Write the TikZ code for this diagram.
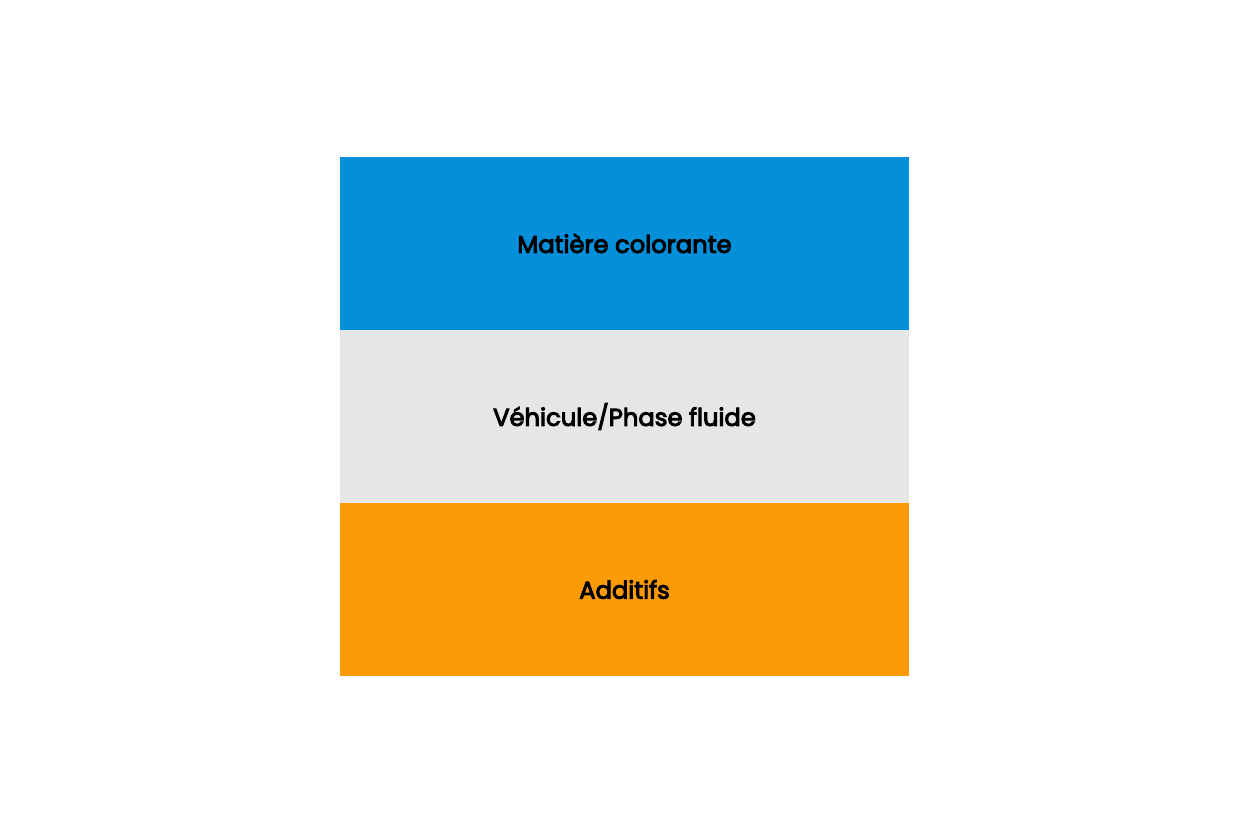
\documentclass[tikz,border=0pt]{standalone}
\usepackage{fontspec}
\setmainfont{Poppins}
\newfontfamily\coucheFont[FakeBold=4]{Poppins}
\usetikzlibrary{positioning}
\definecolor{couleurA}{HTML}{048FDB}
\definecolor{couleurB}{HTML}{E6E6E7}
\definecolor{couleurC}{HTML}{FC9B06}

\begin{document}
\begin{tikzpicture}[
    couche/.style={rectangle, minimum width=11.38cm, minimum height=3.46cm, inner sep=0pt, outer sep=0pt, font=\coucheFont\fontsize{13.8}{15}\selectfont, text=black}
]
\useasboundingbox (0,0) rectangle (24.96,-16.64);

\node [couche, fill=couleurA] (matiere) at (12.49,-4.87) {Matière colorante};
\node [couche, fill=couleurB, below=0pt of matiere] (vehicule) {Véhicule/Phase fluide};
\node [couche, fill=couleurC, below=0pt of vehicule] (additifs) {Additifs};

\end{tikzpicture}
\end{document}
